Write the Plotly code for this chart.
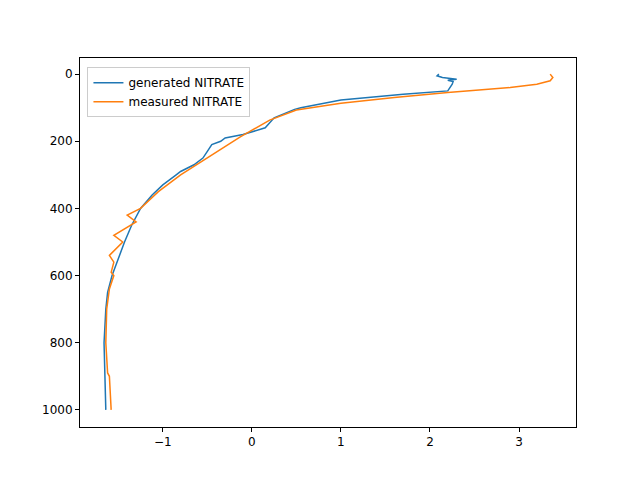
import plotly.graph_objects as go

gen_depth = [0, 5, 10, 15, 18, 22, 30, 50, 60, 77, 100, 105, 130, 160, 180, 190, 200, 210, 230, 250, 270,
             290, 300, 330, 360, 400, 450, 500, 550, 600, 650, 700, 800, 900, 1000]
gen_no3 = [2.1, 2.08, 2.14, 2.3, 2.2, 2.26, 2.25, 2.2, 1.7, 1.0, 0.55, 0.48, 0.25, 0.15, -0.1, -0.3, -0.35,
           -0.45, -0.5, -0.55, -0.65, -0.8, -0.85, -1.0, -1.12, -1.25, -1.35, -1.43, -1.5, -1.57, -1.62, -1.64,
           -1.66, -1.65, -1.64]

meas_depth = [0, 10, 20, 30, 40, 50, 55, 70, 87, 107, 137, 187, 250, 300, 350, 400, 420, 440, 480, 500, 540,
              560, 590, 600, 640, 700, 800, 890, 900, 1000]
meas_no3 = [3.35, 3.38, 3.35, 3.2, 2.9, 2.4, 2.2, 1.6, 1.0, 0.5, 0.2, -0.13, -0.5, -0.8, -1.05, -1.25, -1.4,
            -1.3, -1.55, -1.45, -1.6, -1.55, -1.58, -1.55, -1.6, -1.63, -1.64, -1.62, -1.6, -1.58]

fig = go.Figure()
fig.add_trace(go.Scatter(x=gen_no3, y=gen_depth, mode="lines", name="generated NITRATE",
                         line=dict(color="#1f77b4", width=1.5)))
fig.add_trace(go.Scatter(x=meas_no3, y=meas_depth, mode="lines", name="measured NITRATE",
                         line=dict(color="#ff7f0e", width=1.5)))

ax = dict(showgrid=False, zeroline=False, showline=True, linecolor="black", mirror=True,
          ticks="outside", ticklen=4, tickcolor="black")
fig.update_layout(
    width=640, height=480, plot_bgcolor="white", paper_bgcolor="white",
    margin=dict(l=72, r=72, t=50, b=61),
    font=dict(family="DejaVu Sans", size=12, color="black"),
    xaxis=dict(range=[-1.93, 3.64], tickvals=[-1, 0, 1, 2, 3], ticktext=["\u22121", "0", "1", "2", "3"], **ax),
    yaxis=dict(range=[1051, -48], tickvals=[0, 200, 400, 600, 800, 1000], **ax),
    legend=dict(x=0.015, y=0.975, xanchor="left", yanchor="top", bordercolor="#cccccc", borderwidth=1,
                bgcolor="white", font=dict(size=12)),
)
fig.write_html("out.html")
